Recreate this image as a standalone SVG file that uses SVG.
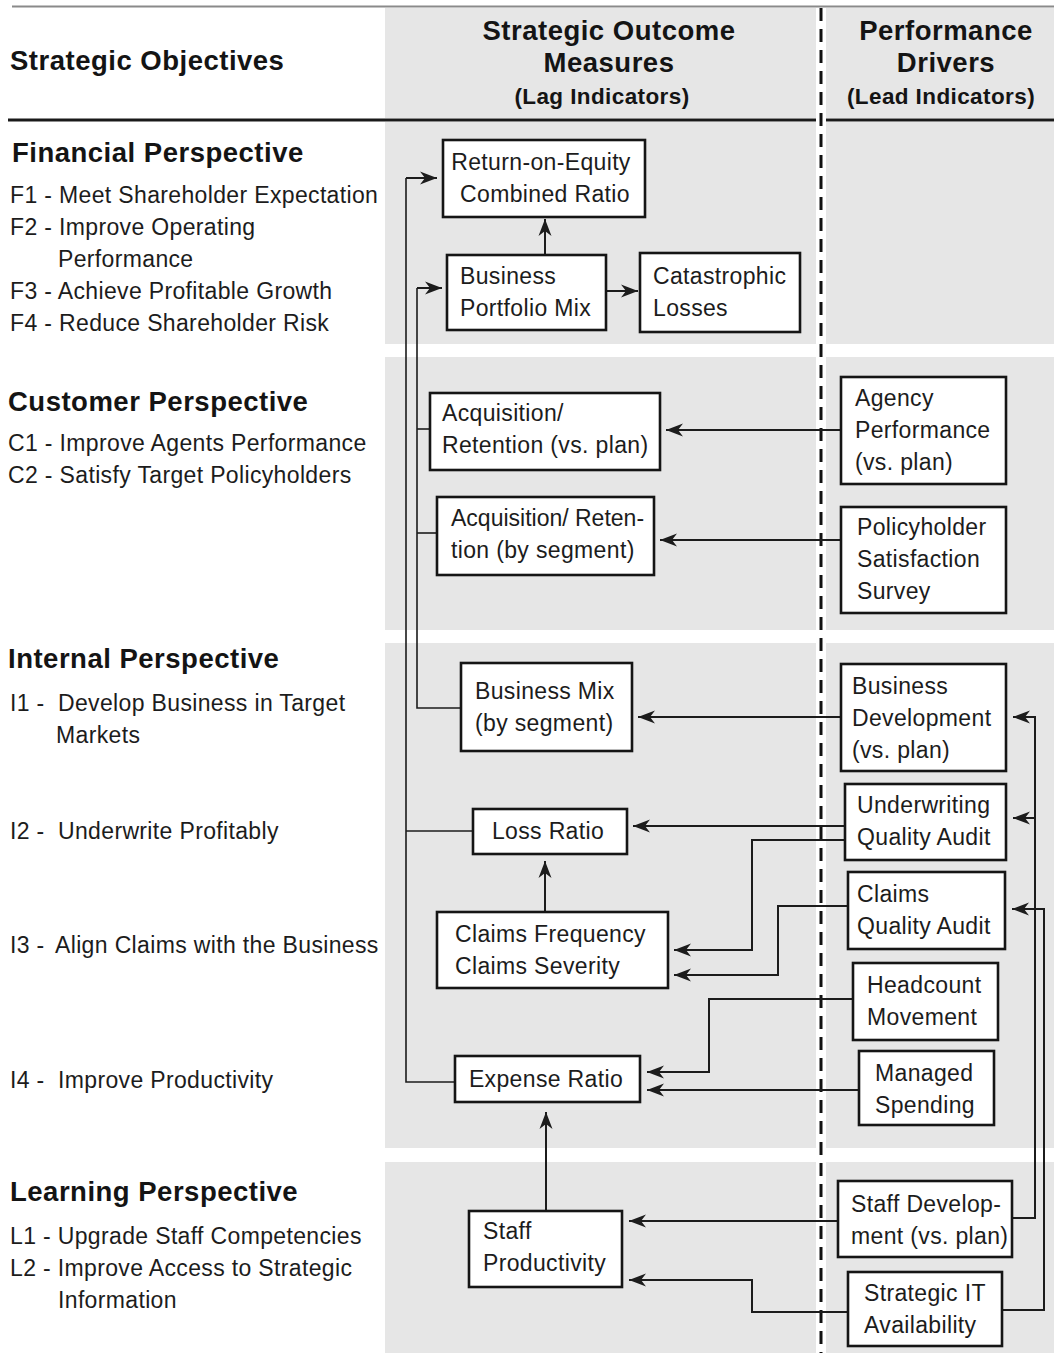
<svg xmlns="http://www.w3.org/2000/svg" width="1054" height="1353" viewBox="0 0 1054 1353">
  <style>
    .band { fill: #e6e6e6; }
    .box { fill: #ffffff; stroke: #151515; stroke-width: 2.6; }
    .t { font-family: "Liberation Sans", Arial, Helvetica, sans-serif; font-size: 23px; fill: #1c1c1c; letter-spacing: 0.35px; }
    .h { font-family: "Liberation Sans", Arial, Helvetica, sans-serif; font-size: 27.5px; font-weight: bold; fill: #141414; letter-spacing: 0.5px; }
    .hs { font-family: "Liberation Sans", Arial, Helvetica, sans-serif; font-size: 22.5px; font-weight: bold; fill: #141414; letter-spacing: 0.4px; }
    .c { text-anchor: middle; }
    .tight { letter-spacing: 0; }
    .thin { fill: none; stroke: #1c1c1c; stroke-width: 1.6; }
    .arr { fill: none; stroke: #1c1c1c; stroke-width: 2; marker-end: url(#ah); }
  </style>
  <defs>
    <marker id="ah" markerUnits="userSpaceOnUse" markerWidth="18" markerHeight="14" refX="17" refY="7" orient="auto">
      <path d="M0,0.5 L17,7 L0,13.5 L5,7 Z" fill="#1c1c1c"/>
    </marker>
  </defs>

  <!-- page -->
  <rect x="0" y="0" width="1054" height="1353" fill="#ffffff"/>

  <!-- shaded column bands -->
  <g id="bands">
    <rect class="band" x="385" y="8" width="431" height="110"/>
    <rect class="band" x="826" y="8" width="228" height="110"/>
    <rect class="band" x="385" y="122" width="431" height="222"/>
    <rect class="band" x="826" y="122" width="228" height="222"/>
    <rect class="band" x="385" y="357" width="431" height="273"/>
    <rect class="band" x="826" y="357" width="228" height="273"/>
    <rect class="band" x="385" y="643" width="431" height="505"/>
    <rect class="band" x="826" y="643" width="228" height="505"/>
    <rect class="band" x="385" y="1162" width="431" height="191"/>
    <rect class="band" x="826" y="1162" width="228" height="191"/>
  </g>

  <!-- rules -->
  <g id="rules">
    <line x1="12" y1="6.5" x2="1054" y2="6.5" stroke="#8a8a8a" stroke-width="2"/>
    <line x1="8" y1="120" x2="816" y2="120" stroke="#1a1a1a" stroke-width="3"/>
    <line x1="826" y1="120" x2="1054" y2="120" stroke="#1a1a1a" stroke-width="3"/>
    <line x1="821" y1="8" x2="821" y2="1353" stroke="#111" stroke-width="3" stroke-dasharray="13,8"/>
  </g>

  <!-- column headings -->
  <g id="headings">
    <text class="h" x="10" y="70">Strategic Objectives</text>
    <text class="h c" x="609" y="40">Strategic Outcome</text>
    <text class="h c" x="609" y="72">Measures</text>
    <text class="hs c" x="602" y="104">(Lag Indicators)</text>
    <text class="h c" x="946" y="40">Performance</text>
    <text class="h c" x="946" y="72">Drivers</text>
    <text class="hs c" x="941" y="104">(Lead Indicators)</text>
  </g>

  <!-- strategic objectives -->
  <g id="objectives">
    <text class="h" x="12" y="162">Financial Perspective</text>
    <text class="t" x="10" y="203">F1 - Meet Shareholder Expectation</text>
    <text class="t" x="10" y="235">F2 - Improve Operating</text>
    <text class="t" x="58" y="267">Performance</text>
    <text class="t" x="10" y="299">F3 - Achieve Profitable Growth</text>
    <text class="t" x="10" y="331">F4 - Reduce Shareholder Risk</text>

    <text class="h" x="8" y="411">Customer Perspective</text>
    <text class="t" x="8" y="451">C1 - Improve Agents Performance</text>
    <text class="t" x="8" y="483">C2 - Satisfy Target Policyholders</text>

    <text class="h" x="8" y="668">Internal Perspective</text>
    <text class="t" x="10" y="711">I1 -</text>
    <text class="t" x="58" y="711">Develop Business in Target</text>
    <text class="t" x="56" y="743">Markets</text>
    <text class="t" x="10" y="839">I2 -</text>
    <text class="t" x="58" y="839">Underwrite Profitably</text>
    <text class="t" x="10" y="953">I3 -</text>
    <text class="t" x="55" y="953">Align Claims with the Business</text>
    <text class="t" x="10" y="1088">I4 -</text>
    <text class="t" x="58" y="1088">Improve Productivity</text>

    <text class="h" x="10" y="1201">Learning Perspective</text>
    <text class="t" x="10" y="1244">L1 - Upgrade Staff Competencies</text>
    <text class="t" x="10" y="1276">L2 - Improve Access to Strategic</text>
    <text class="t" x="58" y="1308">Information</text>
  </g>

  <!-- connectors -->
  <g id="connectors">
    <!-- trunk into Return-on-Equity -->
    <polyline class="thin" points="455,1082 406,1082 406,178"/>
    <line class="thin" x1="473" y1="831" x2="406" y2="831"/>
    <polyline class="arr" points="406,178 437,178"/>
    <!-- trunk into Business Portfolio Mix -->
    <polyline class="thin" points="461,708 417,708 417,288"/>
    <line class="thin" x1="430" y1="429" x2="417" y2="429"/>
    <line class="thin" x1="437" y1="533" x2="417" y2="533"/>
    <polyline class="arr" points="417,288 442,288"/>
    <!-- financial links -->
    <line class="arr" x1="545" y1="255" x2="545" y2="219"/>
    <line class="arr" x1="606" y1="291" x2="638" y2="291"/>
    <!-- customer drivers -->
    <line class="arr" x1="841" y1="430" x2="666" y2="430"/>
    <line class="arr" x1="841" y1="540" x2="660" y2="540"/>
    <!-- internal drivers -->
    <line class="arr" x1="841" y1="717" x2="638" y2="717"/>
    <line class="arr" x1="845" y1="826" x2="633" y2="826"/>
    <polyline class="arr" points="845,840 752,840 752,950 674,950"/>
    <polyline class="arr" points="848,906 778,906 778,975 674,975"/>
    <line class="arr" x1="545" y1="912" x2="545" y2="861"/>
    <polyline class="arr" points="853,999 709,999 709,1072 647,1072"/>
    <line class="arr" x1="859" y1="1090" x2="647" y2="1090"/>
    <line class="arr" x1="546" y1="1211" x2="546" y2="1112"/>
    <!-- learning drivers -->
    <line class="arr" x1="838" y1="1221" x2="629" y2="1221"/>
    <polyline class="arr" points="848,1312 752,1312 752,1280 629,1280"/>
    <!-- feedback loops on the right -->
    <polyline class="arr" points="1012,1218 1035,1218 1035,717 1013,717"/>
    <line class="arr" x1="1035" y1="818" x2="1013" y2="818"/>
    <polyline class="arr" points="1002,1310 1044,1310 1044,909 1012,909"/>
  </g>

  <!-- outcome measures -->
  <g id="roe">
    <rect class="box" x="443" y="140" width="202" height="77"/>
    <text class="t c" x="541" y="170">Return-on-Equity</text>
    <text class="t c" x="545" y="202">Combined Ratio</text>
  </g>
  <g id="portfolio-mix">
    <rect class="box" x="447" y="255" width="159" height="75"/>
    <text class="t" x="460" y="284">Business</text>
    <text class="t" x="460" y="316">Portfolio Mix</text>
  </g>
  <g id="catastrophic">
    <rect class="box" x="640" y="253" width="160" height="79"/>
    <text class="t" x="653" y="284">Catastrophic</text>
    <text class="t" x="653" y="316">Losses</text>
  </g>
  <g id="acq-plan">
    <rect class="box" x="430" y="393" width="230" height="77"/>
    <text class="t" x="442" y="421">Acquisition/</text>
    <text class="t" x="442" y="453">Retention (vs. plan)</text>
  </g>
  <g id="acq-segment">
    <rect class="box" x="437" y="497" width="217" height="78"/>
    <text class="t tight" x="451" y="526">Acquisition/ Reten-</text>
    <text class="t" x="451" y="558">tion (by segment)</text>
  </g>
  <g id="business-mix">
    <rect class="box" x="461" y="663" width="171" height="88"/>
    <text class="t" x="475" y="699">Business Mix</text>
    <text class="t" x="475" y="731">(by segment)</text>
  </g>
  <g id="loss-ratio">
    <rect class="box" x="473" y="809" width="154" height="45"/>
    <text class="t c" x="548" y="839">Loss Ratio</text>
  </g>
  <g id="claims-freq">
    <rect class="box" x="437" y="912" width="231" height="76"/>
    <text class="t" x="455" y="942">Claims Frequency</text>
    <text class="t" x="455" y="974">Claims Severity</text>
  </g>
  <g id="expense-ratio">
    <rect class="box" x="455" y="1056" width="185" height="46"/>
    <text class="t c" x="546" y="1087">Expense Ratio</text>
  </g>
  <g id="staff-productivity">
    <rect class="box" x="469" y="1211" width="153" height="76"/>
    <text class="t" x="483" y="1239">Staff</text>
    <text class="t" x="483" y="1271">Productivity</text>
  </g>

  <!-- performance drivers -->
  <g id="agency">
    <rect class="box" x="841" y="377" width="165" height="107"/>
    <text class="t" x="855" y="406">Agency</text>
    <text class="t" x="855" y="438">Performance</text>
    <text class="t" x="855" y="470">(vs. plan)</text>
  </g>
  <g id="policyholder">
    <rect class="box" x="841" y="507" width="165" height="106"/>
    <text class="t" x="857" y="535">Policyholder</text>
    <text class="t" x="857" y="567">Satisfaction</text>
    <text class="t" x="857" y="599">Survey</text>
  </g>
  <g id="business-dev">
    <rect class="box" x="841" y="664" width="165" height="107"/>
    <text class="t" x="852" y="694">Business</text>
    <text class="t" x="852" y="726">Development</text>
    <text class="t" x="852" y="758">(vs. plan)</text>
  </g>
  <g id="underwriting">
    <rect class="box" x="845" y="784" width="161" height="76"/>
    <text class="t" x="857" y="813">Underwriting</text>
    <text class="t" x="857" y="845">Quality Audit</text>
  </g>
  <g id="claims-audit">
    <rect class="box" x="848" y="872" width="157" height="77"/>
    <text class="t" x="857" y="902">Claims</text>
    <text class="t" x="857" y="934">Quality Audit</text>
  </g>
  <g id="headcount">
    <rect class="box" x="853" y="963" width="145" height="77"/>
    <text class="t" x="867" y="993">Headcount</text>
    <text class="t" x="867" y="1025">Movement</text>
  </g>
  <g id="managed-spending">
    <rect class="box" x="859" y="1051" width="135" height="74"/>
    <text class="t" x="875" y="1081">Managed</text>
    <text class="t" x="875" y="1113">Spending</text>
  </g>
  <g id="staff-dev">
    <rect class="box" x="838" y="1181" width="174" height="76"/>
    <text class="t" x="851" y="1212">Staff Develop-</text>
    <text class="t" x="851" y="1244">ment (vs. plan)</text>
  </g>
  <g id="strategic-it">
    <rect class="box" x="848" y="1272" width="154" height="74"/>
    <text class="t" x="864" y="1301">Strategic IT</text>
    <text class="t" x="864" y="1333">Availability</text>
  </g>
</svg>
